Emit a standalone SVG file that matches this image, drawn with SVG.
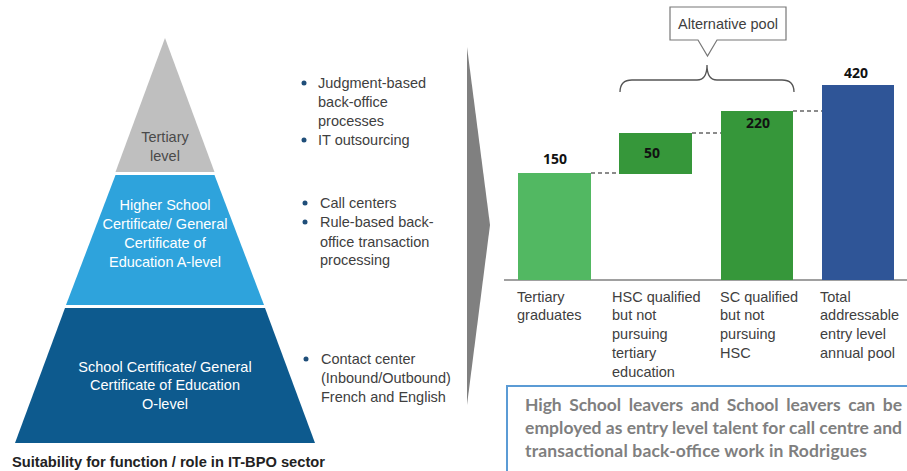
<svg xmlns="http://www.w3.org/2000/svg" width="907" height="471" viewBox="0 0 907 471">
<style>
.t{font-family:"Liberation Sans",Arial,sans-serif;font-size:14.5px;fill:#404040}
.pw{font-family:"Liberation Sans",Arial,sans-serif;font-size:14.5px;fill:#ffffff;text-anchor:middle}
.pg{font-family:"Liberation Sans",Arial,sans-serif;font-size:14.5px;fill:#4a4a4a;text-anchor:middle}
.v{font-family:"Open Sans","Liberation Sans",sans-serif;font-size:14px;font-weight:bold;fill:#111;text-anchor:middle}
.bx{font-family:Lato,"Open Sans",sans-serif;font-size:17.5px;font-weight:bold;fill:#7f7f7f}
.dash{stroke:#666;stroke-width:1.5;stroke-dasharray:4 3;fill:none}
.dot{fill:#1f4e79}
</style>
<rect width="907" height="471" fill="#ffffff"/>

<g id="pyramid-tertiary">
<polygon points="165,38 214.5,172 115.5,172" fill="#bfbfbf"/>
<text class="pg" x="165" y="142">Tertiary</text>
<text class="pg" x="165" y="161">level</text>
</g>
<g id="pyramid-hsc">
<polygon points="115.5,175 214.5,175 264,305 66,305" fill="#2ea3dc"/>
<text class="pw" x="165" y="210">Higher School</text>
<text class="pw" x="165" y="229">Certificate/ General</text>
<text class="pw" x="165" y="248">Certificate of</text>
<text class="pw" x="165" y="267">Education A-level</text>
</g>
<g id="pyramid-sc">
<polygon points="65,308 265,308 315,443 15,443" fill="#0d5a8e"/>
<text class="pw" x="165" y="372">School Certificate/ General</text>
<text class="pw" x="165" y="390">Certificate of Education</text>
<text class="pw" x="165" y="409">O-level</text>
</g>
<text id="caption" x="12" y="467" font-family="'Liberation Sans',Arial,sans-serif" font-size="14px" font-weight="bold" fill="#222" textLength="313" lengthAdjust="spacingAndGlyphs">Suitability for function / role in IT-BPO sector</text>

<g id="bullets-tertiary">
<circle class="dot" cx="304" cy="83" r="2.5"/>
<circle class="dot" cx="304" cy="140" r="2.5"/>
<text class="t" x="318" y="88">Judgment-based</text>
<text class="t" x="318" y="107">back-office</text>
<text class="t" x="318" y="126">processes</text>
<text class="t" x="318" y="145">IT outsourcing</text>
</g>
<g id="bullets-hsc">
<circle class="dot" cx="305" cy="203" r="2.5"/>
<circle class="dot" cx="305" cy="222" r="2.5"/>
<text class="t" x="320" y="208">Call centers</text>
<text class="t" x="320" y="227">Rule-based back-</text>
<text class="t" x="320" y="247">office transaction</text>
<text class="t" x="320" y="265">processing</text>
</g>
<g id="bullets-sc">
<circle class="dot" cx="306" cy="359" r="2.5"/>
<text class="t" x="321" y="364">Contact center</text>
<text class="t" x="321" y="383">(Inbound/Outbound)</text>
<text class="t" x="321" y="402">French and English</text>
</g>

<g id="chevron">
<polygon points="467,47 490,225 467,405" fill="#808080"/>
</g>

<g id="connectors">
<line x1="504" y1="280" x2="907" y2="280" stroke="#808080" stroke-width="1.5"/>
<line class="dash" x1="591" y1="173" x2="619" y2="173"/>
<line class="dash" x1="692" y1="133" x2="721" y2="133"/>
<line class="dash" x1="793" y1="111" x2="822" y2="111"/>
<path d="M620,92 Q620,80 632,80 L697,80 Q707,80 707,65 Q707,80 717,80 L782,80 Q794,80 794,92" fill="none" stroke="#555" stroke-width="1.3"/>
</g>

<g id="callout">
<path d="M670,7 H786 V40 H717 L707.5,56 L698,40 H670 Z" fill="#fff" stroke="#777" stroke-width="1.2"/>
<text x="728" y="29" font-family="'Liberation Sans',Arial,sans-serif" font-size="14.5px" fill="#404040" text-anchor="middle">Alternative pool</text>
</g>

<g id="bar-tertiary">
<rect x="518" y="173" width="73" height="107" fill="#52b862"/>
<text class="v" x="555" y="164">150</text>
<text class="t" x="517" y="302">Tertiary</text>
<text class="t" x="517" y="320">graduates</text>
</g>
<g id="bar-hsc">
<rect x="619" y="133" width="73" height="41" fill="#36973a"/>
<text class="v" x="652" y="158">50</text>
<text class="t" x="612" y="302">HSC qualified</text>
<text class="t" x="612" y="320">but not</text>
<text class="t" x="612" y="339">pursuing</text>
<text class="t" x="612" y="358">tertiary</text>
<text class="t" x="612" y="377">education</text>
</g>
<g id="bar-sc">
<rect x="721" y="111" width="72" height="169" fill="#36973a"/>
<text class="v" x="758" y="128">220</text>
<text class="t" x="720" y="302">SC qualified</text>
<text class="t" x="720" y="320">but not</text>
<text class="t" x="720" y="339">pursuing</text>
<text class="t" x="720" y="358">HSC</text>
</g>
<g id="bar-total">
<rect x="822" y="85" width="72" height="195" fill="#2f5597"/>
<text class="v" x="856" y="78">420</text>
<text class="t" x="820" y="302">Total</text>
<text class="t" x="820" y="320">addressable</text>
<text class="t" x="820" y="339">entry level</text>
<text class="t" x="820" y="358">annual pool</text>
</g>

<g id="note">
<rect x="507" y="386" width="410" height="100" fill="#fff" stroke="#5b9bd5" stroke-width="2"/>
<text class="bx" x="525" y="411" word-spacing="3.5" textLength="377" lengthAdjust="spacing">High School leavers and School leavers can be</text>
<text class="bx" x="525" y="434" textLength="377" lengthAdjust="spacing">employed as entry level talent for call centre and</text>
<text class="bx" x="525" y="457" textLength="342" lengthAdjust="spacing">transactional back-office work in Rodrigues</text>
</g>
</svg>
